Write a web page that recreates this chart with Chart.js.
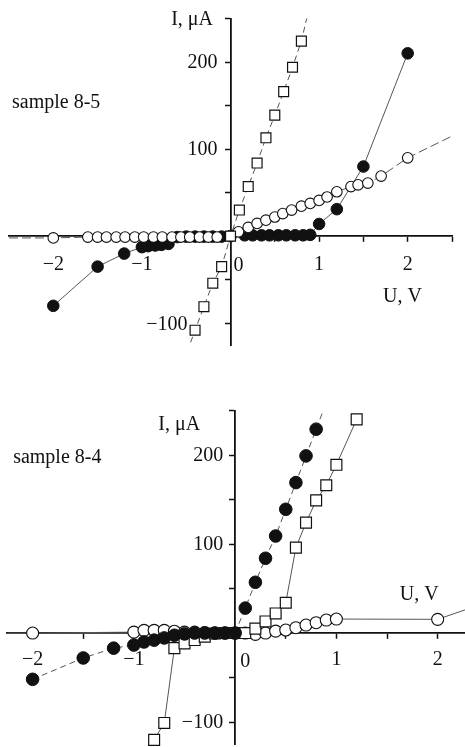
<!DOCTYPE html>
<html><head><meta charset="utf-8">
<script src="https://cdn.jsdelivr.net/npm/chart.js@4.4.1/dist/chart.umd.min.js"></script>
<style>
html,body{margin:0;padding:0;background:#fff;}
#wrap{position:relative;width:465px;height:747px;overflow:hidden;background:#fff;}
.panel{position:absolute;left:0;width:465px;}
canvas{display:block;}
</style></head><body>
<div id="wrap">
<div class="panel" style="top:0;height:360px"><canvas id="c1" width="465" height="360"></canvas></div>
<div class="panel" style="top:360px;height:387px"><canvas id="c2" width="465" height="387"></canvas></div>
</div>
<script>
// ===== Panel 1: sample 8-5 =====
const topTitle = 'sample 8-5';
const topXTicks = [-2, -1.5, -1, -0.5, 0, 0.5, 1, 1.5, 2, 2.5];
const topXTickLabels = ['−2', '', '−1', '', '', '', '1', '', '2', ''];
const topYTicks = [-100, -50, 50, 100, 150, 200, 250];
const topYTickLabels = ['', '', '', '100', '', '200', ''];
// open squares (dashed line)
const topSquaresU = [-0.4, -0.3, -0.2, -0.1, 0, 0.1, 0.2, 0.3, 0.4, 0.5, 0.6, 0.7, 0.8];
const topSquaresI = [-108, -81, -54, -35, 0, 30, 57, 84, 113, 139, 166, 194, 224];
const topSquaresLead = [-0.45, -122];
const topSquaresTail = [0.86, 250];
// filled circles (solid line)
const topFilledU = [-2.0, -1.5, -1.2, -1.0, -0.93, -0.85, -0.78, -0.7, -0.6, -0.5, -0.4, -0.3, -0.2, -0.1, 0, 0.16, 0.25, 0.35, 0.44, 0.54, 0.63, 0.73, 0.82, 0.9, 1.0, 1.2, 1.5, 2.0];
const topFilledI = [-80, -35, -20, -12.6, -11.5, -10.7, -10, -8.9, -1, -0.5, -0.5, -0.5, -0.5, -0.5, 0, 1, 1, 1, 1, 1, 1, 1, 1, 1.5, 14, 31, 80, 210];
// open circles (long-dash line)
const topOpenU = [-2.0, -1.61, -1.5, -1.4, -1.29, -1.19, -1.08, -0.98, -0.87, -0.77, -0.66, -0.56, -0.46, -0.35, -0.25, -0.15, 0, 0.09, 0.2, 0.3, 0.4, 0.5, 0.59, 0.69, 0.8, 0.9, 1.0, 1.09, 1.2, 1.36, 1.44, 1.55, 1.7, 2.0];
const topOpenI = [-2, -1, -1, -1, -1, -1, -1, -1, -1, -1, -1, -1, -1, -1, -1, -1, 0, 5, 10, 14.6, 18.4, 22, 26, 30, 34.5, 37.6, 41, 45, 51, 57, 59, 61, 69, 90];
const topOpenLead = [-2.5, -2];
const topOpenTail = [2.5, 115];

// ===== Panel 2: sample 8-4 =====
const botTitle = 'sample 8-4';
const botXTicks = [-2, -1.5, -1, -0.5, 0, 0.5, 1, 1.5, 2];
const botXTickLabels = ['−2', '', '−1', '', '', '', '1', '', '2'];
const botYTicks = [-100, -50, 50, 100, 150, 200, 250];
const botYTickLabels = ['−100', '', '', '100', '', '200', ''];
// filled circles (dashed line)
const botFilledU = [-2.0, -1.5, -1.2, -1.0, -0.9, -0.8, -0.7, -0.6, -0.5, -0.4, -0.3, -0.2, -0.1, 0, 0.1, 0.2, 0.3, 0.4, 0.5, 0.6, 0.7, 0.8];
const botFilledI = [-52, -28, -17, -13.5, -10, -8, -5.5, -2.5, -1, 0, 0, 0, 0, 0, 28, 57, 84, 109, 139, 169, 199, 229];
const botFilledTail = [0.87, 250];
// open squares (solid line)
const botSquaresU = [-0.8, -0.7, -0.6, -0.5, -0.4, -0.3, -0.2, -0.1, 0, 0.1, 0.2, 0.3, 0.4, 0.5, 0.6, 0.7, 0.8, 0.9, 1.0, 1.2];
const botSquaresI = [-120, -101, -17, -11.6, -7.9, -4, -0.5, 0, 0, 0, 5, 13, 22, 34, 96, 124, 149, 166, 189, 240];
// open circles (solid line)
const botOpenU = [-2.0, -1.0, -0.9, -0.8, -0.7, -0.6, -0.5, -0.4, -0.3, -0.2, -0.1, 0, 0.1, 0.2, 0.3, 0.4, 0.5, 0.6, 0.7, 0.8, 0.9, 1.0, 2.0];
const botOpenI = [0, 1, 3, 3, 3, 2, 1, 1, 0.5, 0, 0, 0, 0, -1.5, 0, 2.2, 3.4, 6, 9, 11.6, 14.6, 15.7, 15.4];
const botOpenLead = [-2.25, 0];
const botOpenTail = [2.27, 26];

const FONT = '"Liberation Serif", "Times New Roman", serif';

function pts(us, is) { return us.map((u, k) => ({x: u, y: is[k]})); }

// Draws y tick labels (left of the centred y axis), axis titles, panel title
const textPlugin = {
  id: 'texts',
  afterDraw(chart, args, opts) {
    const ctx = chart.ctx, xs = chart.scales.x, ys = chart.scales.y;
    const ox = xs.getPixelForValue(0), oy = ys.getPixelForValue(0);
    ctx.save();
    ctx.fillStyle = '#111';
    ctx.font = '20px ' + FONT;
    ctx.textAlign = 'right';
    ctx.textBaseline = 'middle';
    (opts.yTicks || []).forEach((v, k) => {
      const lab = opts.yLabels[k];
      if (lab) ctx.fillText(lab, ox - opts.yGap, ys.getPixelForValue(v) + 1);
    });
    ctx.textBaseline = 'alphabetic';
    (opts.items || []).forEach(t => {
      ctx.textAlign = t.align || 'left';
      const x = (t.vx !== undefined ? xs.getPixelForValue(t.vx) : ox) + t.dx;
      const y = (t.vy !== undefined ? ys.getPixelForValue(t.vy) : oy) + t.dy;
      ctx.fillText(t.text, x, y);
    });
    ctx.restore();
  }
};

function noPad(sc) { sc.paddingTop = 0; sc.paddingBottom = 0; sc.paddingLeft = 0; sc.paddingRight = 0; }

function makeChart(id, p) {
  const datasets = [];
  p.series.forEach(s => {
    const path = pts(s.u, s.i);
    const full = [];
    if (s.lead) full.push({x: s.lead[0], y: s.lead[1]});
    path.forEach(q => full.push(q));
    if (s.tail) full.push({x: s.tail[0], y: s.tail[1]});
    datasets.push({
      data: full, showLine: true, pointRadius: 0, pointHoverRadius: 0,
      borderColor: '#555', borderWidth: 1, borderDash: s.dash || [],
      fill: false, tension: 0, order: 20, clip: false
    });
    datasets.push({
      data: path, showLine: false, pointStyle: s.style, pointRadius: s.r, pointHoverRadius: s.r,
      pointBackgroundColor: s.fill, pointBorderColor: '#111', pointBorderWidth: s.bw,
      order: s.order, clip: false
    });
  });
  const tickFont = {family: FONT, size: 20};
  return new Chart(document.getElementById(id), {
    type: 'scatter',
    data: {datasets},
    options: {
      responsive: false, animation: false, events: [],
      layout: {padding: p.pad, autoPadding: false},
      plugins: {legend: {display: false}, tooltip: {enabled: false},
                texts: {items: p.texts, yTicks: p.yTicks, yLabels: p.yLabels, yGap: p.yGap}},
      scales: {
        x: {
          type: 'linear', min: p.xmin, max: p.xmax, position: {y: 0},
          afterBuildTicks: sc => { sc.ticks = p.xTicks.map(v => ({value: v})); },
          afterFit: noPad,
          grid: {drawOnChartArea: false, drawTicks: true, tickLength: 5, tickWidth: 1.5, tickColor: '#111'},
          border: {display: true, color: '#111', width: 1.8},
          ticks: {font: tickFont, color: '#111', padding: p.xPad, maxRotation: 0, autoSkip: false,
                  callback: (v) => { const k = p.xTicks.indexOf(v); return k >= 0 ? p.xLabels[k] : ''; }}
        },
        y: {
          type: 'linear', min: p.ymin, max: p.ymax, position: {x: 0},
          afterBuildTicks: sc => { sc.ticks = p.yTicks.map(v => ({value: v})); },
          afterFit: noPad,
          grid: {drawOnChartArea: false, drawTicks: true, tickLength: 5, tickWidth: 1.5, tickColor: '#111'},
          border: {display: true, color: '#111', width: 1.8},
          ticks: {display: false}
        }
      }
    },
    plugins: [textPlugin]
  });
}

makeChart('c1', {
  xmin: -2.5, xmax: 2.5, ymin: -125, ymax: 250,
  pad: {left: 9, right: 13, top: 18.5, bottom: 15},
  xTicks: topXTicks, xLabels: topXTickLabels, yTicks: topYTicks, yLabels: topYTickLabels,
  xPad: 12, yGap: 13,
  series: [
    {u: topFilledU, i: topFilledI, style: 'circle', r: 5.8, fill: '#111', bw: 1, order: 3},
    {u: topOpenU, i: topOpenI, lead: topOpenLead, tail: topOpenTail, dash: [9, 4], style: 'circle', r: 5.3, fill: '#fff', bw: 1.1, order: 2},
    {u: topSquaresU, i: topSquaresI, lead: topSquaresLead, tail: topSquaresTail, dash: [6, 4], style: 'rect', r: 7, fill: '#fff', bw: 1.2, order: 1}
  ],
  texts: [
    {text: 'I, μA', align: 'right', dx: -17.5, dy: -211},
    {text: topTitle, align: 'left', dx: -218.5, dy: -128},
    {text: 'U, V', align: 'left', dx: 152.5, dy: 65.5},
    {text: '0', align: 'center', dx: 8, dy: 35},
    {text: '−100', align: 'right', dx: -43, vy: -100, dy: 7}
  ]
});

makeChart('c2', {
  xmin: -2.25, xmax: 2.27, ymin: -125, ymax: 250,
  pad: {left: 7.3, right: 0, top: 50.5, bottom: 2.7},
  xTicks: botXTicks, xLabels: botXTickLabels, yTicks: botYTicks, yLabels: botYTickLabels,
  xPad: 10, yGap: 12,
  series: [
    {u: botOpenU, i: botOpenI, lead: botOpenLead, tail: botOpenTail, style: 'circle', r: 6, fill: '#fff', bw: 1.1, order: 3},
    {u: botSquaresU, i: botSquaresI, style: 'rect', r: 7.7, fill: '#fff', bw: 1.2, order: 2},
    {u: botFilledU, i: botFilledI, tail: botFilledTail, dash: [6, 4], style: 'circle', r: 6.3, fill: '#111', bw: 1, order: 1}
  ],
  texts: [
    {text: 'I, μA', align: 'right', dx: -35, dy: -203},
    {text: botTitle, align: 'left', dx: -222, dy: -170},
    {text: 'U, V', align: 'left', dx: 164.7, dy: -33},
    {text: '0', align: 'center', dx: 10, dy: 34}
  ]
});
</script>
</body></html>
